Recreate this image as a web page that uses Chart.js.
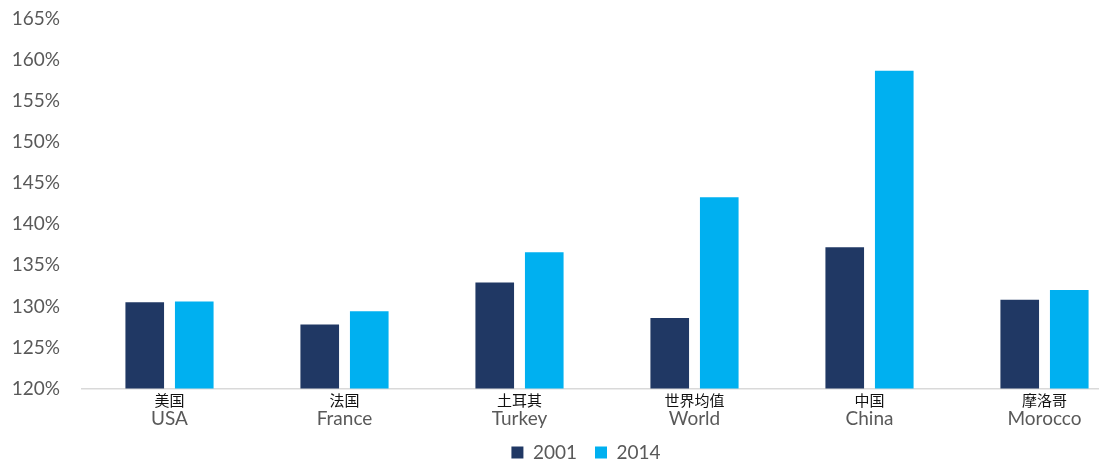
<!DOCTYPE html>
<html>
<head>
<meta charset="utf-8">
<title>2001 vs 2014</title>
<style>
  html, body { margin: 0; padding: 0; background: #fff; overflow: hidden; }
  #wrap { width: 1172px; height: 472px; position: relative; }
</style>
</head>
<body>
<div id="wrap">
    <canvas id="ratioChart"></canvas>
</div>

<script src="https://cdn.jsdelivr.net/npm/chart.js@4/dist/chart.umd.min.js"></script>
<script>
/* data */
var namesZh = ["美国", "法国", "土耳其", "世界均值", "中国", "摩洛哥"];
var namesEn = ["USA", "France", "Turkey", "World", "China", "Morocco"];
var values2001 = [130.5, 127.8, 132.9, 128.6, 137.2, 130.8];
var values2014 = [130.6, 129.4, 136.6, 143.3, 158.7, 132.0];

var grey = "#595959";
var latin = "Lato, 'Open Sans', sans-serif";

// the two label rows sit close together, so don't clip labels to their own axis box
function noLabelClip(scale) {
    scale._computeLabelArea = function () { return undefined; };
}

var ctx = document.getElementById("ratioChart");
var myChart = new Chart(ctx, {
    type: 'bar',
    data: {
        labels: namesZh,
        datasets: [{
            label: "2001",
            data: values2001,
            backgroundColor: "#203864",
            barPercentage: 0.78,
            categoryPercentage: 0.566
        }, {
            label: "2014",
            data: values2014,
            backgroundColor: "#00B0F0",
            barPercentage: 0.78,
            categoryPercentage: 0.566
        }]
    },
    options: {
        responsive: true,
        maintainAspectRatio: false,
        animation: false,
        layout: { padding: { top: 19, left: 0, bottom: 0 } },
        plugins: {
            tooltip: { enabled: false },
            legend: {
                position: 'bottom',
                labels: {
                    boxWidth: 12,
                    boxHeight: 12,
                    padding: 18,
                    color: grey,
                    font: { family: latin, size: 19, lineHeight: 1 }
                }
            }
        },
        scales: {
            y: {
                min: 120,
                max: 165,
                afterFit: function (scale) {
                    scale.width = 82;
                    // tick padding is only meant sideways here
                    scale.paddingTop = 0;
                    scale.paddingBottom = 0;
                },
                ticks: {
                    stepSize: 5,
                    padding: 22,
                    color: grey,
                    font: { family: latin, size: 19 },
                    callback: function (v) { return v + "%"; }
                },
                grid: { display: false, drawTicks: false },
                border: { display: false }
            },
            // empty axis on the right, only there to push the plot past the window edge
            yR: {
                position: 'right',
                display: true,
                afterFit: function (scale) { scale.width = 40; },
                ticks: { display: false },
                grid: { display: false, drawTicks: false },
                border: { display: false }
            },
            x: {
                afterFit: noLabelClip,
                ticks: {
                    padding: 3,
                    color: "#111",
                    font: { family: "'Noto Sans CJK SC', sans-serif", size: 15, lineHeight: 1.2 }
                },
                grid: { display: false, drawTicks: false },
                border: { display: true, color: "#D9D9D9", width: 1.5 }
            },
            x2: {
                type: 'category',
                labels: namesEn,
                position: 'bottom',
                offset: true,
                afterFit: noLabelClip,
                ticks: {
                    padding: -14,
                    color: grey,
                    font: { family: latin, size: 19, lineHeight: 2.13 }
                },
                grid: { display: false, drawTicks: false },
                border: { display: false }
            }
        }
    }
});
</script>
</body>
</html>
